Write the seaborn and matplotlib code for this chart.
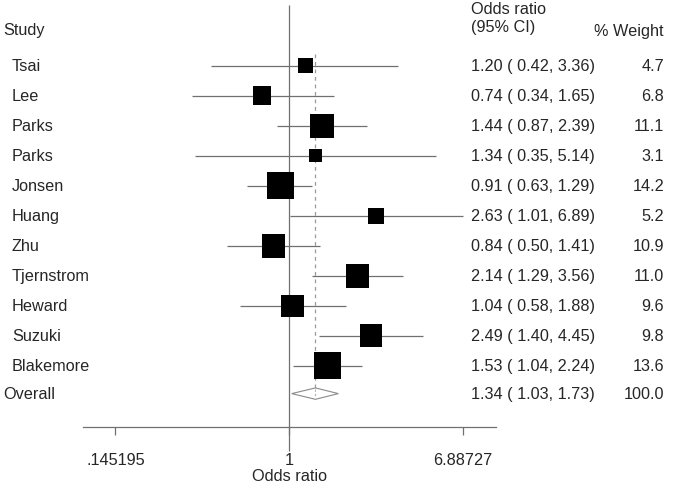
import numpy as np
import pandas as pd
import matplotlib
matplotlib.use("Agg")
import matplotlib.pyplot as plt
import matplotlib.transforms as mtransforms
import seaborn as sns

studies = ["Tsai", "Lee", "Parks", "Parks", "Jonsen", "Huang", "Zhu",
           "Tjernstrom", "Heward", "Suzuki", "Blakemore"]
odds = [1.20, 0.74, 1.44, 1.34, 0.91, 2.63, 0.84, 2.14, 1.04, 2.49, 1.53]
ci_low = [0.42, 0.34, 0.87, 0.35, 0.63, 1.01, 0.50, 1.29, 0.58, 1.40, 1.04]
ci_high = [3.36, 1.65, 2.39, 5.14, 1.29, 6.89, 1.41, 3.56, 1.88, 4.45, 2.24]
weights = [4.7, 6.8, 11.1, 3.1, 14.2, 5.2, 10.9, 11.0, 9.6, 9.8, 13.6]

overall_or = 1.34
overall_low = 1.03
overall_high = 1.73
overall_weight = 100.0

tick_values = [0.145195, 1, 6.88727]
tick_labels = [".145195", "1", "6.88727"]

df = pd.DataFrame({"study": studies, "odds": odds, "low": ci_low,
                   "high": ci_high, "weight": weights})
df["row"] = np.arange(len(df))
overall_row = len(df) - 1 + 0.93

sns.set_style("white")
plt.rcParams["font.family"] = ["Liberation Sans", "DejaVu Sans"]
fs = 11.7
line_col = "#707070"

fig = plt.figure(figsize=(6.73, 4.85), dpi=100)
W, H = 673, 485
ax = fig.add_axes([83 / W, 57 / H, 413 / W, 428 / H])
ax.set_xscale("log")
ax.set_xlim(0.1013, 9.97)
ax.set_ylim(12.043, -2.223)

# null line
ax.vlines(1, -2.02, 12.84, color=line_col, lw=0.9, clip_on=False, zorder=1)
# overall estimate line
ax.vlines(overall_or, -0.4, overall_row - 0.19, color="#9a9a9a", lw=0.9,
          linestyles=(0, (3, 3)), zorder=1)

# confidence intervals
ax.hlines(df["row"], df["low"], df["high"], color=line_col, lw=0.9, zorder=2)

# weighted boxes (area proportional to weight)
side_per_sqrt = 7.17 / (100 / 72)
smax = side_per_sqrt ** 2 * df["weight"].max()
sns.scatterplot(data=df, x="odds", y="row", size="weight",
                sizes=(0, smax), size_norm=(0, df["weight"].max()),
                marker="s", color="black", linewidth=0, legend=False,
                ax=ax, zorder=3)

# overall diamond
h = 0.19
ax.fill([overall_low, overall_or, overall_high, overall_or],
        [overall_row, overall_row - h, overall_row, overall_row + h],
        facecolor="white", edgecolor="#8a8a8a", lw=0.8, zorder=3)
ax.vlines(overall_or, overall_row - h + 0.05, overall_row + h - 0.05,
          color="#b0b0b0", lw=0.8, linestyles=(0, (2, 2)), zorder=4)

# axis styling
for s in ["top", "left", "right"]:
    ax.spines[s].set_visible(False)
ax.spines["bottom"].set_color(line_col)
ax.spines["bottom"].set_linewidth(0.9)
ax.set_xticks(tick_values)
ax.set_xticklabels(tick_labels, fontsize=fs)
ax.minorticks_off()
ax.tick_params(axis="x", direction="out", length=6, width=0.9,
               color=line_col, pad=12, bottom=True)
ax.set_yticks([])
ax.set_xlabel("Odds ratio", fontsize=fs, labelpad=1)
ax.set_ylabel("")

# text columns
tr = mtransforms.blended_transform_factory(fig.transFigure, ax.transData)
ax.text(3 / W, -1.22, "Study", transform=tr, fontsize=fs, va="center")
ax.text(471.5 / W, -1.89, "Odds ratio", transform=tr, fontsize=fs, va="center")
ax.text(471.5 / W, -1.29, "(95% CI)", transform=tr, fontsize=fs, va="center")
ax.text(664 / W, -1.16, "% Weight", transform=tr, fontsize=fs, va="center",
        ha="right")

for _, r in df.iterrows():
    ax.text(12 / W, r["row"], r["study"], transform=tr, fontsize=fs,
            va="center")
    ax.text(471.5 / W, r["row"],
            f"{r['odds']:.2f} ( {r['low']:.2f}, {r['high']:.2f})",
            transform=tr, fontsize=fs, va="center")
    ax.text(664 / W, r["row"], f"{r['weight']:.1f}", transform=tr,
            fontsize=fs, va="center", ha="right")

ax.text(3 / W, overall_row, "Overall", transform=tr, fontsize=fs, va="center")
ax.text(471.5 / W, overall_row,
        f"{overall_or:.2f} ( {overall_low:.2f}, {overall_high:.2f})",
        transform=tr, fontsize=fs, va="center")
ax.text(664 / W, overall_row, f"{overall_weight:.1f}", transform=tr,
        fontsize=fs, va="center", ha="right")

fig.savefig("out.png", dpi=100)
